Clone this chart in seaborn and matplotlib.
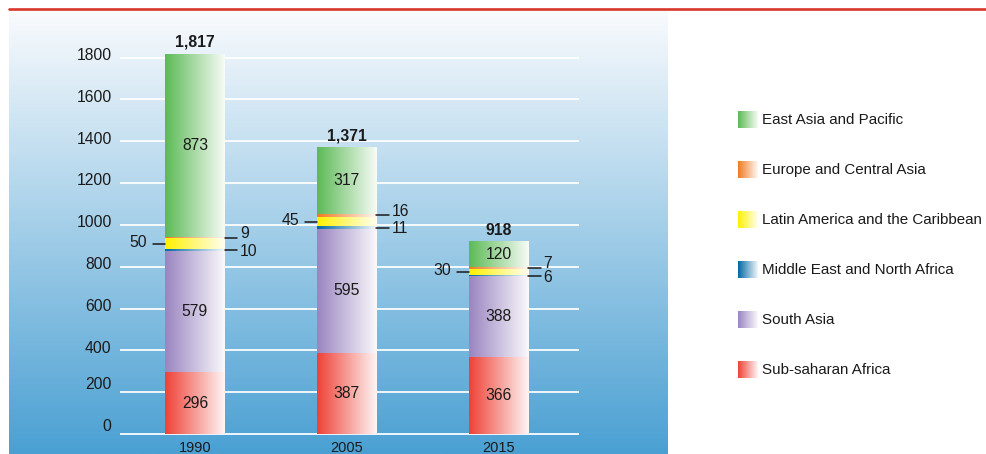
import numpy as np
import matplotlib
matplotlib.use("Agg")
import matplotlib.pyplot as plt
from matplotlib.lines import Line2D
from matplotlib.patches import Patch
import seaborn as sns

years = ["1990", "2005", "2015"]
regions = [
    "Sub-saharan Africa",
    "South Asia",
    "Middle East and North Africa",
    "Latin America and the Caribbean",
    "Europe and Central Asia",
    "East Asia and Pacific",
]
ssa = [296, 387, 366]
south_asia = [579, 595, 388]
mena = [10, 11, 6]
lac = [50, 45, 30]
eca = [9, 16, 7]
eap = [873, 317, 120]
totals = [1817, 1371, 918]
yticks = [0, 200, 400, 600, 800, 1000, 1200, 1400, 1600, 1800]

series = [ssa, south_asia, mena, lac, eca, eap]
colors = {
    "Sub-saharan Africa": "#ef4136",
    "South Asia": "#9a85c0",
    "Middle East and North Africa": "#0068a5",
    "Latin America and the Caribbean": "#fff100",
    "Europe and Central Asia": "#f07a22",
    "East Asia and Pacific": "#5cba56",
}

sns.set_theme(style="white")
plt.rcParams["font.family"] = ["Liberation Sans", "DejaVu Sans"]
ink = "#1a1a1a"


def hgrad(color, n=128):
    # saturated on the left, fading to white on the right
    c = np.array(matplotlib.colors.to_rgb(color))
    t = np.linspace(0, 0.95, n)[:, None]
    return (c * (1 - t) + t)[None, :, :]


fig = plt.figure(figsize=(9.87, 4.54), dpi=100)

# background panel with vertical gradient
bg = fig.add_axes([9 / 987, 0, 659 / 987, 444 / 454], zorder=0)
top = np.array([250, 251, 253]) / 255
bot = np.array([74, 160, 211]) / 255
t = np.linspace(0, 1, 256)[:, None]
bg.imshow((top * (1 - t) + bot * t)[:, None, :], aspect="auto", extent=(0, 1, 0, 1))
bg.axis("off")

fig.add_artist(Line2D([9 / 987, 1], [445.5 / 454] * 2, color="#d8372b", lw=1.9))

ax = fig.add_axes([120 / 987, 0.04267, 459 / 987, 0.8765], zorder=1)
ax.patch.set_alpha(0)

bottom = np.zeros(len(years))
bottoms = []
for name, vals in zip(regions, series):
    bottoms.append(bottom.copy())
    sns.barplot(x=years, y=vals, bottom=bottom, color=colors[name], width=0.39,
                saturation=1, errorbar=None, linewidth=0, ax=ax)
    bottom = bottom + np.array(vals)

for p in list(ax.patches):
    x0, y0 = p.get_xy()
    w, h = p.get_width(), p.get_height()
    ax.imshow(hgrad(p.get_facecolor()), extent=(x0, x0 + w, y0, y0 + h),
              aspect="auto", zorder=2, interpolation="bilinear")
    p.set_visible(False)

hw = 0.39 / 2
lead = 0.082
for k, (name, vals) in enumerate(zip(regions, series)):
    for i, v in enumerate(vals):
        c = bottoms[k][i] + v / 2
        if v >= 100:
            ax.text(i, c, str(v), ha="center", va="center", fontsize=11.3, color=ink, zorder=3)
        elif name == "Latin America and the Caribbean":
            ax.plot([i - hw - lead, i - hw], [c, c], color=ink, lw=1.1, zorder=3, clip_on=False)
            ax.annotate(str(v), xy=(i - hw - lead, c), xytext=(-4, 1), textcoords="offset points",
                        ha="right", va="center", fontsize=11.3, color=ink)
        else:
            dy = 3 if name == "Europe and Central Asia" else -1
            ax.plot([i + hw, i + hw + lead], [c, c], color=ink, lw=1.1, zorder=3, clip_on=False)
            ax.annotate(str(v), xy=(i + hw + lead, c), xytext=(2, dy), textcoords="offset points",
                        ha="left", va="center", fontsize=11.3, color=ink)

for i, tot in enumerate(totals):
    ax.annotate(f"{tot:,}", xy=(i, bottom[i]), xytext=(0, 3), textcoords="offset points",
                ha="center", va="bottom", fontsize=11.3, fontweight="bold", color=ink)

ax.set_xlim(-0.494, 2.53)
ax.set_ylim(-3, 1900)
ax.set_yticks(yticks)
ax.yaxis.grid(True, color="white", lw=1.4, alpha=0.9)
ax.set_axisbelow(True)
ax.tick_params(axis="y", length=0, labelleft=False)
# the printed axis labels sit a little above their gridlines
for v in yticks:
    up = 5.5 if v < 400 else 1.5
    ax.annotate(str(v), xy=(0, v), xycoords=("axes fraction", "data"), xytext=(-6, up),
                textcoords="offset points", ha="right", va="center", fontsize=11.3, color=ink)
ax.set_xticks(range(len(years)))
ax.set_xticklabels(years, fontsize=10.5, color=ink)
ax.tick_params(axis="x", length=0, pad=4.5)
ax.set_xlabel("")
ax.set_ylabel("")
sns.despine(ax=ax, left=True, bottom=True)

handles = [Patch(facecolor=colors[r], linewidth=0) for r in reversed(regions)]
leg = fig.legend(handles, list(reversed(regions)), loc="upper left",
                 bbox_to_anchor=(738 / 987, (454 - 111) / 454), frameon=False,
                 prop={"size": 10.9}, borderpad=0, borderaxespad=0,
                 handlelength=1.26, handleheight=1.32, handletextpad=0.3, labelspacing=2.2)
for txt in leg.get_texts():
    txt.set_color(ink)

fig.canvas.draw()
inv = fig.transFigure.inverted()
for p in leg.get_patches():
    (x0, y0), (x1, y1) = inv.transform(p.get_window_extent())
    sq = fig.add_axes([x0, y0, x1 - x0, y1 - y0], zorder=3)
    sq.imshow(hgrad(p.get_facecolor()), aspect="auto", interpolation="bilinear")
    sq.axis("off")
    p.set_visible(False)

fig.savefig("out.png", dpi=100)
